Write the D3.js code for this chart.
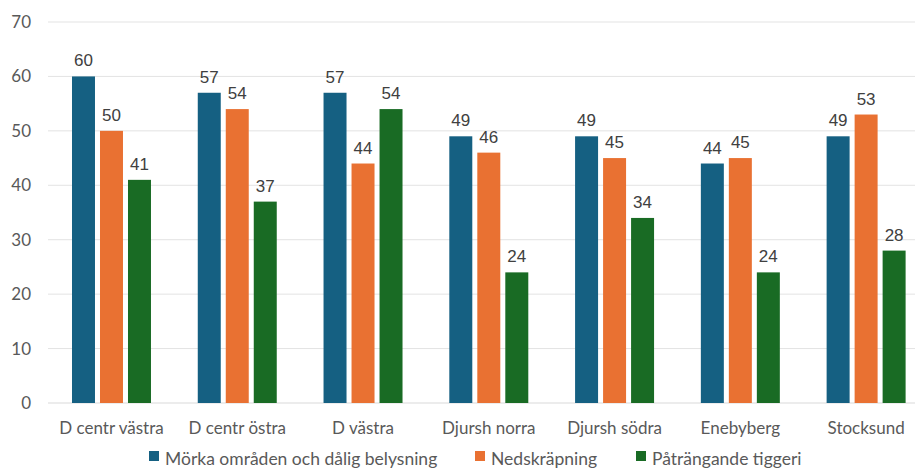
<!DOCTYPE html>
<html>
<head>
<meta charset="utf-8">
<script src="https://cdn.jsdelivr.net/npm/d3@7"></script>
<style>
  body { margin: 0; background: #fff; }
  svg { display: block; }
</style>
</head>
<body>
<div id="chart"></div>
<script>
// Data
const categories = ["D centr västra", "D centr östra", "D västra", "Djursh norra", "Djursh södra", "Enebyberg", "Stocksund"];
const seriesNames = ["Mörka områden och dålig belysning", "Nedskräpning", "Påträngande tiggeri"];
const morka = [60, 57, 57, 49, 49, 44, 49];
const nedskrapning = [50, 54, 44, 46, 45, 45, 53];
const tiggeri = [41, 37, 54, 24, 34, 24, 28];
const yTicks = [0, 10, 20, 30, 40, 50, 60, 70];
const colors = ["#156082", "#E97132", "#196B24"];

const width = 915, height = 469;
const margin = { top: 22, right: -14, bottom: 66, left: 48.6 };

const svg = d3.select("#chart")
  .append("svg")
    .attr("width", width)
    .attr("height", height);

const x = d3.scaleBand()
  .domain(categories)
  .range([margin.left, width - margin.right])
  .paddingInner(0.372)
  .paddingOuter(0.186);

const xInner = d3.scaleBand()
  .domain(seriesNames)
  .range([0, x.bandwidth()])
  .paddingInner(0.179);

const y = d3.scaleLinear()
  .domain([0, 70])
  .range([height - margin.bottom, margin.top]);

// gridlines
svg.append("g")
  .selectAll("line")
  .data(yTicks)
  .join("line")
    .attr("x1", 48)
    .attr("x2", width)
    .attr("y1", d => y(d))
    .attr("y2", d => y(d))
    .attr("stroke", d => d === 0 ? "#d9d9d9" : "#e3e3e3")
    .attr("stroke-width", 1);

// y axis labels
const yAxis = d3.axisLeft(y).tickValues(yTicks).tickSize(0).tickPadding(0);
svg.append("g")
  .attr("transform", "translate(31,0)")
  .call(yAxis)
  .call(g => g.select(".domain").remove())
  .selectAll("text")
    .attr("font-family", "Lato, 'Open Sans', sans-serif")
    .attr("font-size", 17)
    .attr("fill", "#595959");

// x axis labels
const xAxis = d3.axisBottom(x).tickSize(0).tickPadding(0);
svg.append("g")
  .attr("transform", `translate(0,${y(0) + 19})`)
  .call(xAxis)
  .call(g => g.select(".domain").remove())
  .selectAll("text")
    .attr("font-family", "Lato, 'Open Sans', sans-serif")
    .attr("font-size", 17)
    .attr("fill", "#595959");

// bars
const rows = categories.map((c, i) => ({
  category: c,
  values: [morka[i], nedskrapning[i], tiggeri[i]]
}));

const groups = svg.append("g")
  .selectAll("g")
  .data(rows)
  .join("g")
    .attr("transform", d => `translate(${x(d.category)},0)`);

groups.selectAll("rect")
  .data(d => d.values.map((v, j) => ({ name: seriesNames[j], value: v, j })))
  .join("rect")
    .attr("x", d => xInner(d.name))
    .attr("y", d => y(d.value))
    .attr("width", xInner.bandwidth())
    .attr("height", d => y(0) - y(d.value))
    .attr("fill", d => colors[d.j]);

groups.selectAll("text")
  .data(d => d.values.map((v, j) => ({ name: seriesNames[j], value: v })))
  .join("text")
    .attr("x", d => xInner(d.name) + xInner.bandwidth() / 2)
    .attr("y", d => y(d.value) - 10)
    .attr("text-anchor", "middle")
    .attr("font-family", "'Liberation Sans', Arial, sans-serif")
    .attr("font-size", 17)
    .attr("fill", "#404040")
    .text(d => d.value);

// legend
const legendX = [149, 475, 636];
const legend = svg.append("g")
  .selectAll("g")
  .data(seriesNames)
  .join("g")
    .attr("transform", (d, i) => `translate(${legendX[i]},${height - 4})`);

legend.append("rect")
  .attr("x", 0)
  .attr("y", -14)
  .attr("width", 10)
  .attr("height", 10)
  .attr("fill", (d, i) => colors[i]);

legend.append("text")
  .attr("x", 16)
  .attr("y", 0)
  .attr("font-family", "Lato, 'Open Sans', sans-serif")
  .attr("font-size", 17.5)
  .attr("fill", "#595959")
  .text(d => d);
</script>
</body>
</html>
